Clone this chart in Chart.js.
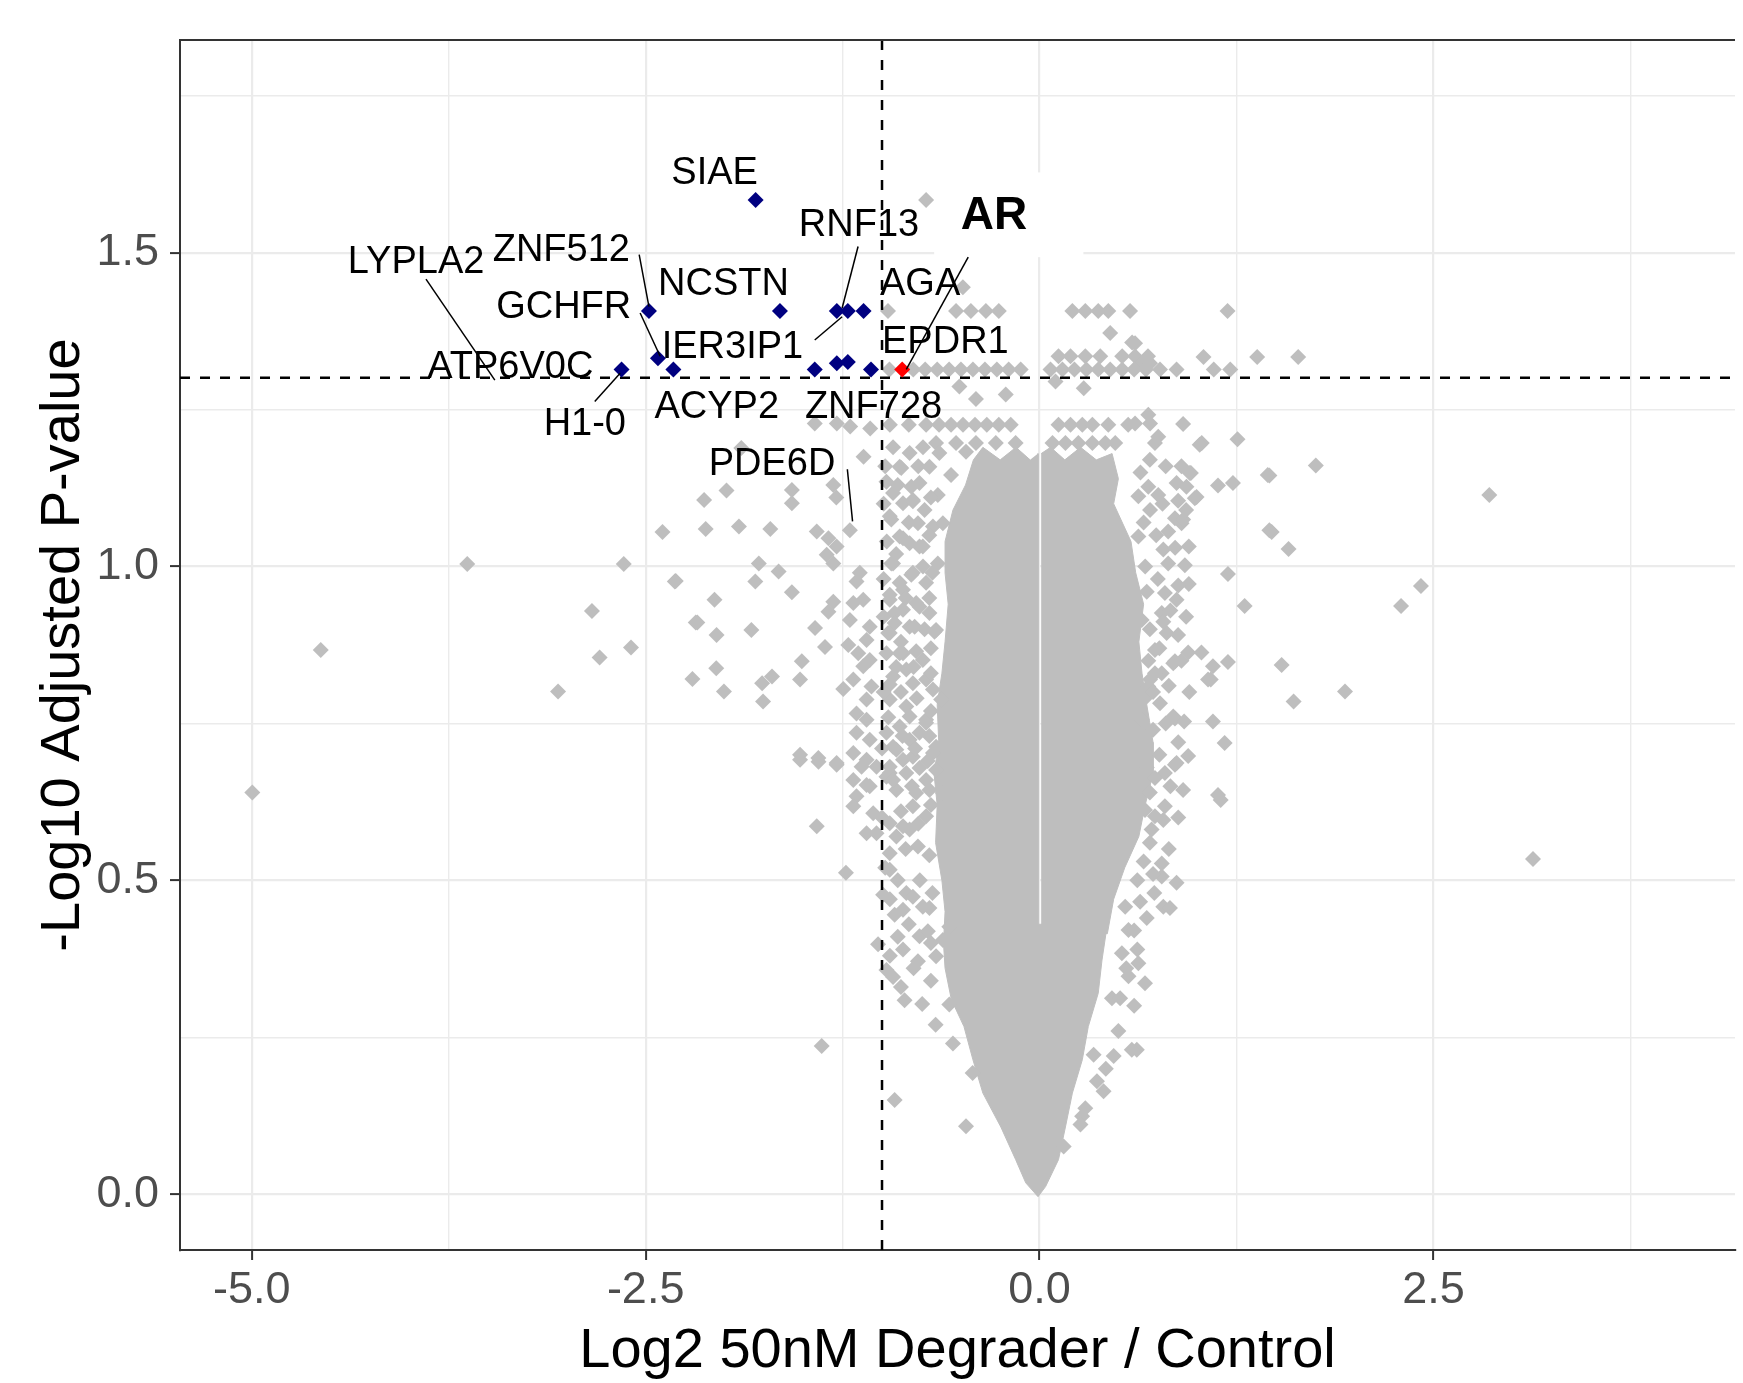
<!DOCTYPE html>
<html>
<head>
<meta charset="utf-8">
<script src="https://cdn.jsdelivr.net/npm/chart.js@4.4.1/dist/chart.umd.min.js"></script>
<style>
  html, body { margin: 0; padding: 0; background: #fff; }
  #wrap { width: 1743px; height: 1383px; position: relative; }
</style>
</head>
<body>
<div id="wrap"><canvas id="volcano"></canvas></div>
<script>
// panel limits
const xMin = -5.455, xMax = 4.413;
const yMin = -0.089, yMax = 1.839;
const xMajorStep = 2.5, yMajorStep = 0.5;

// cut-offs (dashed lines)
const fcCut = -1;
const padjCut = 1.301;

// significant hits (navy) and AR (red)
const sigPoints = [[-1.802,1.584],[-2.479,1.407],[-1.648,1.407],[-1.287,1.407],[-1.217,1.407],[-1.117,1.407],
  [-2.653,1.314],[-2.422,1.332],[-2.324,1.314],[-1.427,1.314],[-1.287,1.324],[-1.217,1.326],[-1.07,1.314]];
const arPoint = [[-0.872,1.314]];

// gene labels
const geneNames = ['SIAE','RNF13','AR','LYPLA2','ZNF512','NCSTN','AGA','GCHFR','IER3IP1','EPDR1','ATP6V0C','H1-0','ACYP2','ZNF728','PDE6D'];
const geneX = [-2.062,-1.146,-0.29,-3.957,-3.035,-2.006,-0.758,-3.02,-1.949,-0.598,-3.359,-2.886,-2.049,-1.054,-1.698];
const geneY = [1.626,1.543,1.558,1.485,1.503,1.45,1.45,1.412,1.349,1.357,1.317,1.227,1.254,1.254,1.162];
// white box behind the AR label: [x1, x2, y1, y2]
const arBox = [-0.669, 0.278, 1.493, 1.628];

// leader lines [x1, y1, x2, y2]
const leaderLines = [
  [-3.894,1.458,-3.457,1.297],
  [-2.541,1.497,-2.479,1.414],
  [-2.535,1.404,-2.408,1.335],
  [-1.152,1.51,-1.253,1.412],
  [-1.427,1.361,-1.253,1.398],
  [-2.823,1.263,-2.662,1.308],
  [-0.453,1.493,-0.846,1.314],
  [-1.22,1.155,-1.187,1.072]
];

// solid body of the cloud (outline of the overlapping points)
const coreLeft = [[-0.01,1.18],[-0.01,0.43],[0.43,0.43],[0.396,0.373],[0.372,0.32],[0.309,0.267],[0.271,0.214],
  [0.208,0.161],[0.164,0.107],[0.12,0.055],[0.038,0.012],[-0.01,-0.004],[-0.088,0.018],[-0.152,0.055],[-0.246,0.107],
  [-0.36,0.161],[-0.423,0.214],[-0.48,0.267],[-0.56,0.31],[-0.6,0.36],[-0.61,0.4],[-0.6,0.45],[-0.62,0.5],
  [-0.66,0.56],[-0.65,0.62],[-0.67,0.67],[-0.64,0.72],[-0.65,0.78],[-0.62,0.83],[-0.6,0.88],[-0.58,0.94],
  [-0.6,0.99],[-0.6,1.04],[-0.55,1.09],[-0.47,1.13],[-0.42,1.17],[-0.36,1.19],[-0.25,1.17],[-0.15,1.19],[-0.06,1.17]];
const coreRight = [[0.01,1.18],[0.07,1.19],[0.16,1.17],[0.26,1.19],[0.36,1.17],[0.46,1.18],[0.5,1.14],[0.47,1.1],
  [0.58,1.04],[0.61,0.99],[0.66,0.94],[0.63,0.88],[0.65,0.83],[0.68,0.78],[0.72,0.72],[0.72,0.67],[0.67,0.62],
  [0.63,0.57],[0.54,0.52],[0.47,0.47],[0.43,0.415],[0.01,0.415]];

// rows of tied adjusted p-values near the top
const bandPoints = [[-0.72,1.584],[-0.487,1.445],
  [-0.962,1.407],[-0.53,1.407],[-0.436,1.407],[-0.341,1.407],[-0.259,1.407],[0.208,1.407],[0.29,1.407],[0.372,1.407],
  [0.436,1.407],[0.574,1.407],[1.193,1.407],[0.448,1.372],[0.587,1.357],[0.606,1.356],
  [0.12,1.335],[0.196,1.335],[0.29,1.335],[0.385,1.335],[0.524,1.335],[0.606,1.335],[0.688,1.335],[1.04,1.334],
  [1.381,1.334],[1.641,1.334],[0.648,1.324],[0.701,1.324],
  [-0.953,1.314],[-0.802,1.314],[-0.726,1.314],[-0.65,1.314],[-0.574,1.314],[-0.499,1.314],[-0.423,1.314],
  [-0.347,1.314],[-0.271,1.314],[-0.196,1.314],[-0.12,1.314],[0.069,1.314],[0.145,1.314],[0.221,1.314],[0.297,1.314],
  [0.372,1.314],[0.448,1.314],[0.524,1.314],[0.6,1.314],[0.675,1.314],[0.764,1.314],[0.869,1.314],[1.105,1.314],[1.21,1.314],
  [-0.509,1.287],[-0.404,1.267],[-0.215,1.274],[0.101,1.295],[0.28,1.284],
  [-0.638,1.226],[-0.562,1.226],[-0.486,1.226],[-0.41,1.226],[-0.335,1.226],[-0.259,1.226],[-0.183,1.226],[0.12,1.226],
  [0.196,1.226],[0.271,1.226],[0.335,1.226],[0.436,1.226],[0.562,1.226],[0.606,1.228],[0.69,1.242],[0.701,1.228],[0.911,1.227],
  [-1.427,1.228],[-1.287,1.228],[-1.202,1.223],[-1.075,1.22],[-0.95,1.226],[-0.83,1.226],[-0.72,1.226],
  [-1.117,1.175],[-1.893,1.189],
  [-0.657,1.197],[-0.53,1.197],[-0.404,1.197],[-0.278,1.197],[-0.152,1.197],[0.082,1.197],[0.164,1.197],[0.246,1.197],
  [0.335,1.197],[0.417,1.197],[0.48,1.197],[0.732,1.197],[1.029,1.197],[1.256,1.203],[0.753,1.207],[1.016,1.194],
  [-0.825,1.181],[-0.878,1.157],[-0.699,1.159],[-0.562,1.146],[-0.636,1.181],[-0.467,1.183],
  [1.753,1.161],[1.458,1.145],[0.96,1.149],[0.953,1.149],[1.448,1.146]];

// left flank of the cloud
const leftPoints = [[-1.309,1.13],[-1.29,1.11],[-1.572,1.122],[-1.572,1.101],[-1.987,1.121],[-2.129,1.106],[-2.119,1.06],
  [-1.908,1.064],[-1.709,1.06],[-1.414,1.056],[-1.34,1.045],[-1.288,1.032],[-1.204,1.058],[-1.351,1.019],[-1.309,1.005],
  [-1.782,1.005],[-1.656,0.992],[-1.804,0.976],[-1.572,0.959],[-2.063,0.947],[-1.309,0.944],[-1.34,0.928],[-2.05,0.891],
  [-1.829,0.899],[-1.425,0.902],[-1.214,0.875],[-1.362,0.872],[-2.052,0.838],[-2.003,0.801],[-1.761,0.814],[-1.698,0.825],
  [-1.755,0.785],[-1.509,0.849],[-1.52,0.82],[-1.246,0.805],[-1.52,0.7],[-1.404,0.695],[-1.288,0.687],
  [-1.141,0.99],[-1.162,0.976],[-1.119,0.947],[-1.182,0.942],[-1.204,0.915],[-1.078,0.904],[-1.098,0.883],[-1.151,0.862],
  [-1.119,0.841],[-1.078,0.851],[-1.182,0.82],[-1.067,0.809],[-1.098,0.788],[-1.162,0.766],[-1.098,0.756],[-1.162,0.735],
  [-1.078,0.724],[-1.182,0.703],[-1.098,0.692],[-1.035,0.681],[-1.182,0.66],[-1.078,0.65],[-1.162,0.634],
  [-0.888,1.159],[-0.93,1.117],[-0.867,1.101],[-0.804,1.106],[-0.951,1.08],[-0.772,1.069],[-0.888,1.048],[-0.825,1.037],
  [-0.741,1.032],[-0.93,1.005],[-0.804,0.99],[-0.72,0.974],[-0.867,0.963],[-0.951,0.947],[-0.783,0.942],[-0.699,0.926],
  [-0.92,0.926],[-0.657,0.899],[-0.825,0.904],[-0.951,0.894],[-0.867,0.862],[-0.741,0.851],[-0.93,0.825],[-0.804,0.814],
  [-0.677,0.804],[-0.951,0.788],[-0.846,0.777],[-0.72,0.756],[-0.888,0.745],[-0.762,0.735],[-0.93,0.713],[-0.804,0.697],
  [-0.677,0.703],[-0.951,0.681],[-0.846,0.671],[-0.72,0.66],[-0.909,0.644],[-0.783,0.639],
  [-0.972,1.135],[-0.814,1.127],[-0.762,1.133],[-0.646,1.114],[-0.804,1.104],[-0.941,1.075],[-0.677,1.064],[-0.614,1.069],
  [-0.867,1.045],[-0.762,1.032],[-0.941,1.005],[-0.646,1.005],[-0.814,0.987],[-0.888,0.974],[-0.951,0.955],[-0.867,0.931],
  [-0.762,0.936],[-0.793,0.904],[-0.667,0.896],[-0.961,0.894],[-0.972,0.862],[-0.888,0.862],[-0.783,0.865],[-0.846,0.836],
  [-0.72,0.82],[-0.951,0.812],[-0.625,0.788],[-0.825,0.761],[-0.72,0.751],[-0.972,0.735],[-0.909,0.708],[-0.825,0.724],
  [-0.657,0.713],[-0.867,0.692],[-0.762,0.679],[-0.657,0.676],[-0.972,0.665],[-0.804,0.618],[-0.699,0.644],[-0.614,0.639],
  [-0.951,0.591],[-0.825,0.581],[-0.72,0.602],
  [-1.52,0.692],[-1.403,0.689],[-1.288,0.684],[-1.13,0.681],[-1.098,0.652],[-0.951,0.671],[-1.182,0.618],[-1.056,0.607],
  [-1.414,0.586],[-1.098,0.575],[-1.035,0.575],[-0.909,0.57],[-0.867,0.586],[-0.772,0.554],[-0.951,0.543],[-0.951,0.517],
  [-1.229,0.512],[-0.993,0.477],[-0.846,0.48],[-0.804,0.474],[-0.741,0.458],[-0.699,0.456],[-0.92,0.445],[-0.867,0.453],
  [-0.762,0.411],[-0.709,0.419],[-0.614,0.405],[-0.573,0.426],[-1.025,0.398],[-0.867,0.39],[-0.772,0.371],[-0.657,0.379],
  [-0.93,0.346],[-0.972,0.357],[-0.857,0.309],[-0.745,0.303],[-0.573,0.302],[-1.383,0.236],[-0.425,0.193],[-0.92,0.15],[-0.467,0.108],
  [-0.98,1.16],[-0.93,1.19],[-0.77,1.16],[-0.74,1.19],[-0.99,1.1],[-0.9,1.13],[-0.73,1.09],[-0.69,1.11],[-0.97,1.04],
  [-0.83,1.07],[-0.7,1.05],[-0.91,1.02],[-0.74,1.0],[-0.68,0.99],[-0.99,0.98],[-0.85,0.95],[-0.7,0.95],[-0.92,0.91],
  [-0.73,0.9],[-0.99,0.92],[-0.88,0.88],[-0.69,0.87],[-0.8,0.84],[-0.91,0.84],[-0.69,0.83],[-0.99,0.8],[-0.88,0.8],
  [-0.78,0.79],[-0.69,0.77],[-0.96,0.76],[-0.87,0.73],[-0.7,0.73],[-1.0,0.71],[-0.79,0.71],[-0.71,0.69],[-0.93,0.66],
  [-0.81,0.65],[-0.69,0.62],[-0.88,0.61],[-0.77,0.59],[-1.0,0.6],[-0.85,0.55],[-0.7,0.54],[-0.98,0.52],[-0.9,0.5],
  [-0.76,0.5],[-0.68,0.48],[-0.95,0.47],[-0.83,0.43],[-0.69,0.4],[-0.9,0.41],[-0.8,0.36],[-0.69,0.34],[-0.95,0.38],
  [-0.88,0.33],[-0.66,0.27],[-0.55,0.24]];

// right flank of the cloud
const rightPoints = [[0.869,1.133],[0.932,1.127],[1.132,1.129],[1.227,1.133],[0.69,1.127],[0.753,1.114],[0.879,1.105],
  [0.996,1.111],[0.627,1.112],[0.701,1.09],[0.859,1.077],[0.901,1.069],[0.816,1.056],[1.473,1.055],[1.58,1.028],
  [0.947,1.032],[0.785,1.027],[0.627,1.048],[0.816,1.005],[0.922,1.002],[1.195,0.988],[0.947,0.972],[0.795,0.958],
  [0.869,0.947],[1.301,0.937],[0.775,0.926],[0.648,0.915],[0.806,0.894],[0.879,0.891],[0.732,0.867],[0.943,0.863],
  [1.027,0.863],[0.848,0.846],[1.1,0.841],[1.195,0.848],[1.536,0.843],[0.775,0.83],[0.701,0.82],[1.086,0.82],[0.669,0.79],
  [0.764,0.782],[1.612,0.785],[0.648,0.756],[0.859,0.758],[0.917,0.753],[1.1,0.753],
  [1.174,0.719],[0.943,0.698],[0.859,0.684],[0.795,0.671],[0.732,0.663],[0.911,0.644],[1.132,0.636],[1.149,0.628],
  [0.795,0.618],[0.669,0.612],[0.785,0.596],[0.711,0.581],[0.775,0.527],[0.775,0.506],[0.869,0.496],[0.728,0.48],
  [0.638,0.466],[0.785,0.458],[0.827,0.456],[0.627,0.368],[0.669,0.336],[0.617,0.23],
  [0.985,1.109],[0.911,1.075],[1.458,1.058],[0.785,0.912],[1.069,0.82],[0.859,0.849],[0.732,0.83],[0.69,0.809],
  [0.848,0.761],[0.869,0.687],[0.732,0.602],
  [0.543,0.458],[0.564,0.421],[0.522,0.384],[0.564,0.347],[0.459,0.312],[0.511,0.312],[0.585,0.23],[0.343,0.222],
  [0.364,0.18],[0.406,0.164],[0.29,0.137],[0.27,0.124],[0.259,0.111],[0.153,0.076],
  [0.7,1.17],[0.8,1.16],[0.64,1.15],[0.9,1.16],[0.78,1.1],[0.66,1.07],[0.93,1.09],[0.74,1.05],[0.86,1.03],[0.67,1.0],
  [0.75,0.98],[0.88,0.97],[0.68,0.96],[0.83,0.93],[0.93,0.92],[0.7,0.9],[0.76,0.87],[0.9,0.85],[0.69,0.85],[0.82,0.81],
  [0.95,0.8],[0.72,0.8],[0.8,0.75],[0.72,0.74],[0.88,0.72],[0.76,0.7],[0.68,0.68],[0.83,0.65],[0.7,0.64],[0.88,0.6],
  [0.7,0.56],[0.82,0.55],[0.66,0.53],[0.72,0.51],[0.62,0.5],[0.68,0.44],[0.6,0.42],[0.62,0.39],[0.55,0.36],[0.6,0.3],
  [0.5,0.26],[0.47,0.22],[0.42,0.2]];

// isolated points far from the cloud
const outlierPoints = [[-4.996,0.64],[-4.562,0.867],[-3.632,1.004],[-3.056,0.801],[-2.841,0.929],[-2.792,0.855],
  [-2.639,1.004],[-2.593,0.871],[-2.393,1.055],[-2.315,0.976],[-2.309,0.977],[-2.182,0.911],[-2.172,0.911],[-2.203,0.821],
  [2.854,1.114],[2.42,0.969],[2.294,0.937],[1.938,0.801],[3.131,0.534]];

const toXY = arr => arr.map(p => ({x: p[0], y: p[1]}));
const isMajor = (v, step) => Math.abs(v / step - Math.round(v / step)) < 1e-6;

const grayPoints = bandPoints.concat(leftPoints, rightPoints, outlierPoints);

const datasets = [];
// leader lines on top
leaderLines.forEach(l => {
  datasets.push({
    type: 'line', data: [{x: l[0], y: l[1]}, {x: l[2], y: l[3]}],
    borderColor: '#000', borderWidth: 1.5, pointRadius: 0, fill: false, order: 1
  });
});
datasets.push({
  type: 'scatter', data: toXY(arPoint), backgroundColor: '#ff0000', borderWidth: 0,
  pointStyle: 'rectRot', pointRadius: 8, order: 2
});
datasets.push({
  type: 'scatter', data: toXY(sigPoints), backgroundColor: '#000080', borderWidth: 0,
  pointStyle: 'rectRot', pointRadius: 8, order: 2
});
// dashed cut-off lines
datasets.push({
  type: 'line', data: [{x: xMin, y: padjCut}, {x: xMax, y: padjCut}],
  borderColor: '#000', borderWidth: 2.5, borderDash: [10, 10], pointRadius: 0, fill: false, order: 3
});
datasets.push({
  type: 'line', data: [{x: fcCut, y: yMin}, {x: fcCut, y: yMax}],
  borderColor: '#000', borderWidth: 2.5, borderDash: [10, 10], pointRadius: 0, fill: false, order: 3
});
datasets.push({
  type: 'scatter', data: toXY(grayPoints), backgroundColor: '#bebebe', borderWidth: 0,
  pointStyle: 'rectRot', pointRadius: 8, order: 4
});
[coreLeft, coreRight].forEach(poly => {
  datasets.push({
    type: 'line', data: toXY(poly), borderColor: '#bebebe', borderWidth: 1,
    backgroundColor: '#bebebe', fill: 'shape', pointRadius: 0, tension: 0, order: 5
  });
});

// AR box, gene labels and the top border of the panel
const labelPlugin = {
  id: 'labelPlugin',
  beforeDatasetsDraw(chart) {
    const {ctx, scales: {x, y}} = chart;
    const l = x.getPixelForValue(arBox[0]), r = x.getPixelForValue(arBox[1]);
    const t = y.getPixelForValue(arBox[3]), b = y.getPixelForValue(arBox[2]);
    ctx.save();
    ctx.fillStyle = '#ffffff';
    ctx.fillRect(l, t, r - l, b - t);
    ctx.restore();
  },
  afterDatasetsDraw(chart) {
    const {ctx, chartArea, scales: {x, y}} = chart;
    ctx.save();
    ctx.strokeStyle = '#333333';
    ctx.lineWidth = 2;
    ctx.beginPath();
    ctx.moveTo(chartArea.left - 1, chartArea.top);
    ctx.lineTo(chartArea.right, chartArea.top);
    ctx.stroke();
    ctx.textAlign = 'center';
    ctx.textBaseline = 'middle';
    ctx.fillStyle = '#000';
    geneNames.forEach((name, i) => {
      ctx.font = name === 'AR' ? 'bold 46px "Liberation Sans", Arial, sans-serif' : '38px "Liberation Sans", Arial, sans-serif';
      ctx.fillText(name, x.getPixelForValue(geneX[i]), y.getPixelForValue(geneY[i]));
    });
    ctx.restore();
  }
};

Chart.defaults.font.family = '"Liberation Sans", Arial, sans-serif';

new Chart(document.getElementById('volcano'), {
  type: 'scatter',
  data: { datasets: datasets },
  plugins: [labelPlugin],
  options: {
    responsive: true,
    maintainAspectRatio: false,
    animation: false,
    events: [],
    layout: { padding: { top: 40, left: 0, right: 0, bottom: 0 } },
    plugins: { legend: { display: false }, tooltip: { enabled: false } },
    scales: {
      x: {
        type: 'linear', min: xMin, max: xMax,
        afterFit: s => { s.height = 133; },
        ticks: {
          stepSize: 1.25, includeBounds: false, autoSkip: false, maxRotation: 0, padding: 4,
          color: '#4d4d4d', font: { size: 45 },
          callback: v => isMajor(v, xMajorStep) ? v.toFixed(1) : ''
        },
        grid: {
          color: '#ebebeb',
          lineWidth: c => isMajor(c.tick.value, xMajorStep) ? 2.2 : 1.4,
          tickLength: 10,
          tickWidth: 2,
          tickColor: c => isMajor(c.tick.value, xMajorStep) ? '#333333' : 'rgba(0,0,0,0)'
        },
        border: { display: true, color: '#333333', width: 2 },
        title: {
          display: true, text: 'Log2 50nM Degrader / Control', color: '#000',
          font: { size: 56, lineHeight: 1 }, padding: { top: 0, bottom: 3 }
        }
      },
      y: {
        type: 'linear', min: yMin, max: yMax,
        afterFit: s => { s.width = 180; },
        ticks: {
          stepSize: 0.25, includeBounds: false, autoSkip: false, padding: 11,
          color: '#4d4d4d', font: { size: 45 },
          callback: v => isMajor(v, yMajorStep) ? v.toFixed(1) : ''
        },
        grid: {
          color: '#ebebeb',
          lineWidth: c => isMajor(c.tick.value, yMajorStep) ? 2.2 : 1.4,
          tickLength: 10,
          tickWidth: 2,
          tickColor: c => isMajor(c.tick.value, yMajorStep) ? '#333333' : 'rgba(0,0,0,0)'
        },
        border: { display: true, color: '#333333', width: 2 },
        title: {
          display: true, text: '-Log10 Adjusted P-value', color: '#000',
          font: { size: 56, lineHeight: 1 }, padding: { top: 36, bottom: 0 }
        }
      }
    }
  }
});
</script>
</body>
</html>
